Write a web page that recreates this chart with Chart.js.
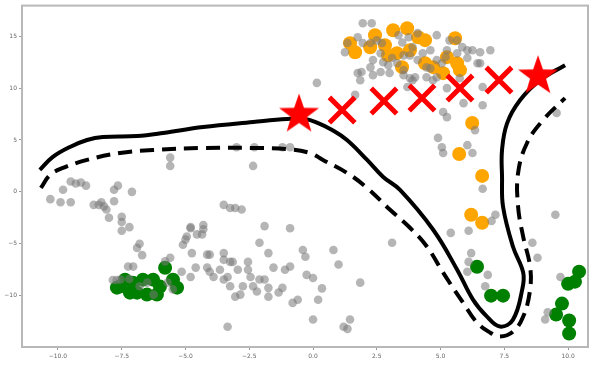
<!DOCTYPE html>
<html>
<head>
<meta charset="utf-8">
<script src="https://cdn.jsdelivr.net/npm/chart.js"></script>
<style>
  html, body { margin: 0; padding: 0; background: #fff; }
  #wrap { width: 614px; height: 374px; position: relative; }
</style>
</head>
<body>
<div id="wrap"><canvas id="chart"></canvas></div>
<script>
const xTicks = [-10, -7.5, -5, -2.5, 0, 2.5, 5, 7.5, 10]
const yTicks = [-10, -5, 0, 5, 10, 15]

const grayPoints = [
  [-10.3, -0.7], [-9.9, -1.0], [-9.8, 0.2], [-9.5, -1.0], [-9.5, 1.0], [-9.3, 0.8], [-9.1, 0.9], [-8.9, 0.6],
  [-8.6, -1.25], [-8.4, -1.25], [-8.3, -1.0], [-8.2, -1.4], [-8.1, -1.7], [-8.0, -2.5], [-7.8, -0.9], [-7.8, 0.2],
  [-7.65, 0.6], [-7.5, -2.4], [-7.5, -2.9], [-7.5, -3.75], [-7.2, -3.4], [-7.1, 0.0], [-5.6, 3.3], [-5.6, 2.5],
  [-6.9, -5.4], [-6.8, -5.0], [-6.7, -6.1], [-5.1, -5.1], [-5.0, -4.6], [-4.95, -4.3], [-4.75, -5.9], [-4.8, -3.4],
  [-4.55, -4.1], [-4.35, -4.1], [-4.3, -3.6], [-4.3, -3.2], [-4.15, -6.05], [-4.05, -6.05], [-3.5, -1.25], [-3.25, -1.55],
  [-3.05, -1.55], [-2.8, -1.7], [-3.5, -5.9], [-3.0, 4.3], [-2.35, 2.5], [-2.3, 4.3], [-1.9, -3.3], [-2.1, -4.9],
  [-1.75, -5.9], [-1.2, 4.3], [-0.9, 4.3], [-0.9, -3.5], [-0.4, -5.6], [-0.3, -6.25], [-7.25, -7.2], [-7.05, -7.2],
  [-7.7, -8.5], [-7.85, -8.5], [-7.55, -8.45], [-7.2, -8.4], [-6.8, -9.1], [-6.5, -8.75], [-6.25, -9.9], [-5.7, -8.75],
  [-5.5, -9.4], [-5.8, -6.7], [-5.6, -6.35], [-5.15, -7.7], [-4.8, -8.2], [-4.8, -3.5], [-4.6, -7.3], [-4.15, -7.3],
  [-4.05, -7.7], [-3.9, -8.2], [-3.5, -6.55], [-3.25, -6.75], [-3.15, -6.75], [-2.95, -7.5], [-3.65, -7.5], [-3.5, -8.45],
  [-3.35, -8.2], [-3.25, -9.1], [-3.05, -10.1], [-2.85, -9.9], [-2.75, -9.1], [-2.45, -8.2], [-2.55, -7.5], [-2.55, -6.75],
  [-2.35, -9.1], [-2.2, -9.6], [-2.1, -8.45], [-1.9, -8.45], [-1.75, -9.25], [-1.75, -10.1], [-1.55, -7.3], [-1.35, -9.7],
  [-1.2, -9.25], [-1.1, -7.5], [-0.9, -7.2], [-0.8, -10.7], [-0.6, -10.4], [-0.25, -8.0], [0.0, -8.3], [0.2, -10.4],
  [0.0, -12.3], [-3.35, -13.0], [3.1, -4.9], [0.8, -5.6], [1.0, -7.0], [0.35, -9.3], [1.85, -8.75], [1.45, -12.3],
  [1.2, -13.0], [1.35, -13.2],
  [5.05, 4.3], [5.1, 3.75], [6.05, 4.5], [6.25, 3.75], [6.65, 0.3], [7.15, -2.2], [7.0, -2.8], [6.1, -3.75],
  [5.4, -3.95], [6.2, -5.9], [6.1, -6.75], [6.05, -7.7], [6.85, -8.0], [6.75, -9.1], [8.6, -4.9], [8.8, -6.35],
  [5.9, 8.55], [6.65, 8.35], [5.1, 7.7], [5.25, 7.2], [9.55, 7.6], [4.9, 5.2], [9.5, -2.2], [9.7, -8.2],
  [9.2, -11.6], [9.1, -12.3], [6.35, 5.95], [0.15, 10.5], [1.65, 9.35],
  [1.95, 16.25], [2.3, 16.25], [1.35, 14.35], [1.25, 13.45], [1.75, 14.9], [1.95, 14.35], [2.25, 14.35], [2.5, 14.6],
  [2.7, 14.35], [2.65, 13.35], [2.35, 12.7], [2.25, 12.0], [1.9, 11.55], [2.75, 12.5], [2.95, 12.2], [3.1, 12.9],
  [3.35, 15.1], [3.5, 14.4], [3.75, 14.9], [4.1, 15.3], [3.9, 13.95], [3.8, 13.15], [3.55, 13.15], [3.3, 12.4],
  [3.55, 11.75], [4.1, 12.7], [4.3, 13.35], [4.6, 13.65], [4.85, 15.1], [4.6, 11.9], [4.85, 12.7], [5.05, 12.4],
  [5.25, 13.65], [5.35, 14.6], [5.65, 14.6], [5.85, 13.95], [6.05, 13.65], [6.25, 13.65], [6.55, 13.45], [6.95, 13.65],
  [6.45, 12.4], [6.05, 12.9], [5.65, 13.35], [5.2, 13.0], [4.85, 11.05], [4.45, 11.05], [4.0, 11.05], [3.8, 10.95],
  [3.0, 11.45], [2.65, 11.55], [2.35, 11.25], [1.75, 11.45], [1.85, 10.75], [3.55, 11.25], [3.9, 10.75], [4.45, 12.0],
  [3.7, 10.1], [4.7, 10.75], [5.25, 10.0], [6.55, 12.4], [6.65, 10.1], [5.75, 10.95]
]

const orangePoints = [
  [1.45, 14.33], [1.65, 13.46], [2.43, 15.1], [2.82, 14.13], [3.14, 15.58], [3.69, 15.77], [3.29, 13.37], [3.8, 13.65],
  [4.12, 14.9], [4.39, 14.62], [4.39, 12.4], [4.71, 12.02], [5.25, 12.98], [5.57, 14.81], [5.65, 12.4], [5.76, 11.73],
  [5.1, 11.44], [3.49, 12.02], [2.94, 13.17], [2.24, 13.94],
  [6.24, 6.63], [5.73, 3.65], [6.63, 1.54], [6.2, -2.21], [6.63, -2.98]
]

const greenPoints = [
  [-7.69, -9.23], [-7.57, -9.13], [-7.37, -8.46], [-7.06, -8.75], [-6.9, -9.71], [-6.67, -8.46], [-6.51, -9.9],
  [-6.27, -8.46], [-6.12, -9.9], [-6.0, -9.13], [-5.8, -7.31], [-5.49, -8.46], [-5.33, -9.23], [-7.18, -9.71],
  [6.43, -7.21], [6.98, -10.0], [7.45, -10.0], [10.43, -7.69], [10.27, -8.65], [10.0, -8.85], [9.76, -10.77],
  [9.53, -11.83], [10.04, -12.4], [10.04, -13.65]
]

const crossPoints = [[1.14, 7.88], [2.78, 8.75], [4.27, 9.04], [5.76, 10.0], [7.29, 10.77]]
const starPoints = [[-0.55, 7.45], [8.82, 11.15]]

const solidCurve = [
  [-10.71, 2.12], [-10.2, 3.37], [-9.53, 4.33], [-8.86, 5.0], [-8.24, 5.29], [-6.9, 5.38], [-5.88, 5.67],
  [-4.31, 6.25], [-2.35, 6.73], [-1.02, 7.02], [-0.31, 7.02], [0.2, 6.63], [0.75, 5.96], [1.33, 5.0],
  [2.12, 3.08], [2.75, 1.44], [3.41, 0.19], [4.71, -3.65], [5.65, -7.5], [6.27, -10.38], [6.82, -12.02],
  [7.33, -12.98], [7.84, -12.31], [8.2, -9.42], [8.24, -7.79], [7.84, -5.29], [7.45, -1.44], [7.41, 1.44],
  [7.41, 4.04], [7.61, 6.63], [8.12, 8.85], [8.9, 10.77], [9.88, 12.21]
]

const dashedCurve = [
  [-10.67, 0.38], [-10.31, 1.63], [-9.8, 2.31], [-8.86, 3.08], [-7.57, 3.75], [-6.27, 4.04], [-4.31, 4.23],
  [-2.35, 4.23], [-1.02, 4.13], [-0.12, 3.75], [0.39, 3.08], [1.33, 1.83], [2.12, 0.38], [3.02, -1.73],
  [3.8, -3.46], [4.47, -5.29], [5.1, -7.79], [5.88, -10.67], [6.43, -12.6], [6.94, -13.56], [7.33, -13.94],
  [7.84, -13.46], [8.24, -12.02], [8.51, -9.42], [8.51, -7.21], [8.24, -4.33], [8.04, -1.44], [8.04, 1.83],
  [8.39, 4.71], [9.02, 6.92], [9.88, 9.04]
]

const toXY = arr => arr.map(p => ({ x: p[0], y: p[1] }))

function makeStar (R, color) {
  const c = document.createElement('canvas')
  const s = Math.ceil(R * 2 + 2)
  c.width = s
  c.height = s
  const g = c.getContext('2d')
  g.fillStyle = color
  g.beginPath()
  for (let i = 0; i < 10; i++) {
    const r = i % 2 ? R * 0.4 : R
    const a = -Math.PI / 2 + i * Math.PI / 5
    g.lineTo(s / 2 + r * Math.cos(a), s / 2 + r * Math.sin(a))
  }
  g.closePath()
  g.fill()
  return c
}

const frame = {
  id: 'frame',
  beforeDatasetsDraw (chart) {
    const { ctx, chartArea: a } = chart
    ctx.save()
    ctx.strokeStyle = '#b8b8b8'
    ctx.lineWidth = 2
    ctx.strokeRect(a.left, a.top, a.right - a.left, a.bottom - a.top)
    ctx.restore()
  }
}

const minus = v => String(v).replace('-', '\u2212')

new Chart(document.getElementById('chart'), {
  type: 'scatter',
  data: {
    datasets: [
      { data: toXY(starPoints), pointStyle: makeStar(21, '#ff0000'), pointRadius: 21, order: 0 },
      { data: toXY(crossPoints), pointStyle: 'crossRot', pointRadius: 18, borderColor: '#ff0000', pointBorderWidth: 5, order: 0 },
      { data: toXY(solidCurve), showLine: true, pointRadius: 0, borderColor: '#000', borderWidth: 4, tension: 0.4, order: 1 },
      { data: toXY(dashedCurve), showLine: true, pointRadius: 0, borderColor: '#000', borderWidth: 4, borderDash: [14, 8], tension: 0.4, order: 1 },
      { data: toXY(grayPoints), pointRadius: 4.3, backgroundColor: 'rgba(120,120,120,0.55)', borderWidth: 0, order: 2 },
      { data: toXY(orangePoints), pointRadius: 7, backgroundColor: '#ffa500', borderWidth: 0, order: 3 },
      { data: toXY(greenPoints), pointRadius: 7, backgroundColor: '#008000', borderWidth: 0, order: 3 }
    ]
  },
  options: {
    responsive: true,
    maintainAspectRatio: false,
    animation: false,
    events: [],
    layout: { autoPadding: false, padding: { top: 5, right: 26, left: 0, bottom: 0 } },
    plugins: { legend: { display: false }, tooltip: { enabled: false } },
    scales: {
      x: {
        min: -11.41,
        max: 10.78,
        afterBuildTicks: s => { s.ticks = xTicks.map(v => ({ value: v })) },
        afterFit: s => { s.height = 27 },
        grid: { drawOnChartArea: false, drawTicks: true, tickLength: 3, color: '#999' },
        border: { display: false },
        ticks: { color: '#666', font: { family: 'DejaVu Sans', size: 6 }, padding: 3, maxRotation: 0, callback: v => minus(v.toFixed(1)) }
      },
      y: {
        min: -14.95,
        max: 17.95,
        afterBuildTicks: s => { s.ticks = yTicks.map(v => ({ value: v })) },
        afterFit: s => { s.width = 22 },
        grid: { drawOnChartArea: false, drawTicks: true, tickLength: 3, color: '#999' },
        border: { display: false },
        ticks: { color: '#666', font: { family: 'DejaVu Sans', size: 6 }, padding: 2, callback: v => minus(v) }
      }
    }
  },
  plugins: [frame]
})
</script>
</body>
</html>
